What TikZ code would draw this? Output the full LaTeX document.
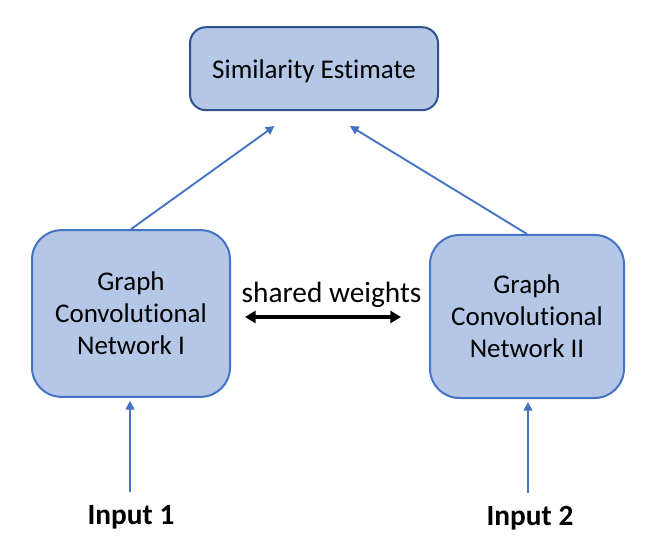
\documentclass[tikz,border=0pt]{standalone}
\usepackage{fontspec}
\setmainfont{Carlito}[Ligatures=NoCommon]
\usetikzlibrary{arrows.meta}
\definecolor{boxfill}{HTML}{B4C7E7}
\definecolor{boxedge}{HTML}{4472C4}
\definecolor{topedge}{HTML}{2F528F}
\definecolor{arrowblue}{HTML}{4472C4}
\tikzset{
  gcnbox/.style={draw=boxedge, fill=boxfill, line width=1.5pt, rounded corners=22pt,
    align=center, inner sep=0pt, font=\fontsize{20.25}{24}\selectfont},
  topbox/.style={draw=topedge, fill=boxfill, line width=1.5pt, rounded corners=12pt,
    align=center, inner sep=0pt, font=\fontsize{20.25}{24}\selectfont},
  inlabel/.style={font=\fontsize{22}{26}\selectfont\bfseries, inner sep=0pt},
  bluearrow/.style={draw=arrowblue, line width=1.4pt, -{Triangle[length=6.5pt,width=6.5pt]}},
  blackarrow/.style={draw=black, line width=2.4pt, {Triangle[length=8pt,width=9pt]}-{Triangle[length=8pt,width=9pt]}}
}
\begin{document}
\begin{tikzpicture}[x=0.75pt,y=-0.75pt]
\useasboundingbox (0,0) rectangle (664,552);
\node[topbox, minimum width=186pt, minimum height=62.25pt] (sim) at (314,68.7) {\raisebox{-7.2pt}[0pt][0pt]{Similarity Estimate}};
\node[gcnbox, minimum width=148.5pt, minimum height=125pt] (gcn1) at (131,313.5) {Graph\\Convolutional\\Network I};
\node[gcnbox, minimum width=145.5pt, minimum height=122.25pt] (gcn2) at (527,316.5) {Graph\\Convolutional\\Network II};
\node[inlabel, anchor=base] (in1) at (131,524) {Input 1};
\node[inlabel, anchor=base] (in2) at (530,525) {Input 2};
\node[anchor=base, inner sep=0pt, font=\fontsize{22}{26}\selectfont] (sw) at (331.5,303) {shared weights};
\coordinate (simL) at (274.5,126);
\coordinate (simR) at (350,126);
\coordinate (swA) at (245,317);
\coordinate (swB) at (401,317);
\coordinate (in1top) at (130,492);
\coordinate (in2top) at (528,493);
\draw[bluearrow] (gcn1.north) -- (simL);
\draw[bluearrow] (gcn2.north) -- (simR);
\draw[bluearrow, shorten >=2.25pt] (in1top) -- (in1top |- gcn1.south);
\draw[bluearrow, shorten >=2.25pt] (in2top) -- (in2top |- gcn2.south);
\draw[blackarrow] (swA) -- (swB);
\end{tikzpicture}
\end{document}
